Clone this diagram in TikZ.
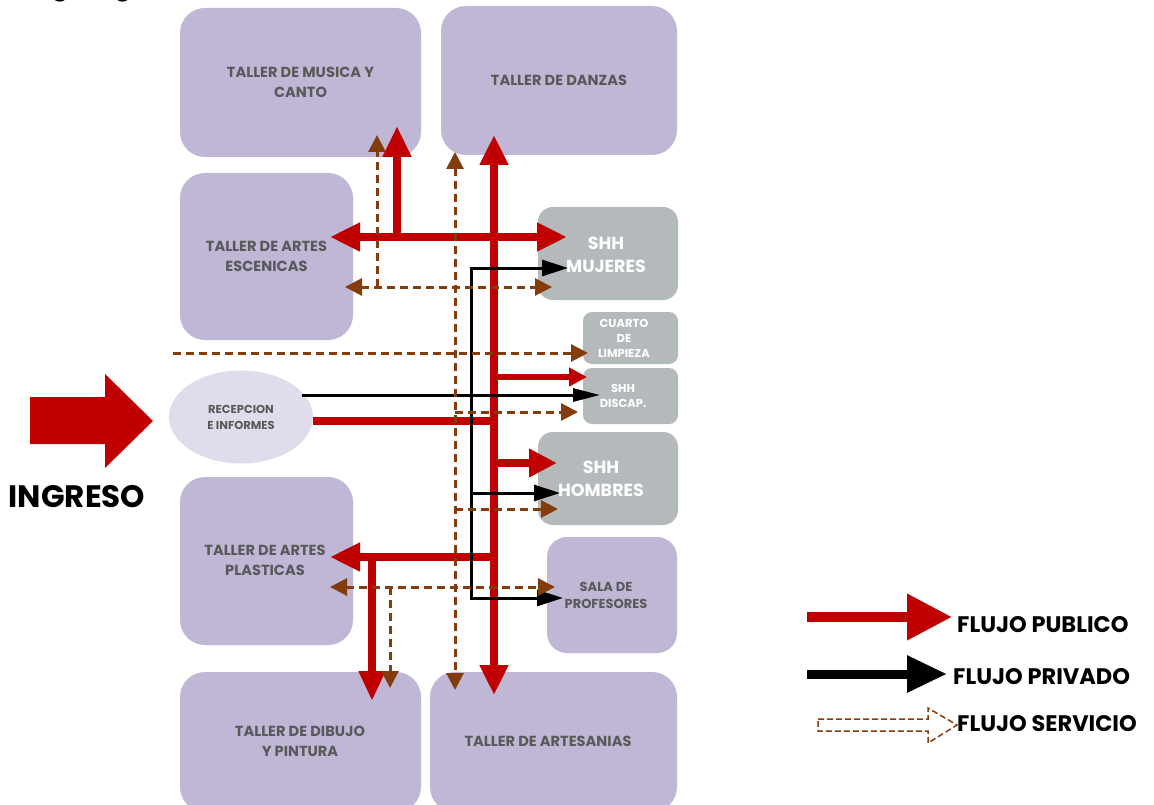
\documentclass[tikz,border=0pt]{standalone}
\usepackage{fontspec}
\setmainfont{Poppins}
\newfontfamily\labfont{Poppins SemiBold}
\usetikzlibrary{arrows.meta,shapes.geometric}
\definecolor{lav}{HTML}{C0B7D7}
\definecolor{lavlight}{HTML}{E0DCEC}
\definecolor{greybox}{HTML}{B4BABC}
\definecolor{txtgrey}{HTML}{595959}
\definecolor{redflow}{HTML}{C00000}
\definecolor{brownflow}{HTML}{843C0C}
\tikzset{
  room/.style={fill=lav, rounded corners=25pt, inner sep=0pt, align=center, text=txtgrey,
    font=\bfseries\fontsize{14.6}{20}\selectfont},
  wc/.style={fill=greybox, rounded corners=15pt, inner sep=0pt, align=center, text=white,
    font=\bfseries\fontsize{17.5}{23}\selectfont},
  wcsmall/.style={fill=greybox, rounded corners=9pt, inner sep=0pt, align=center, text=white,
    font=\bfseries\fontsize{11.5}{15}\selectfont},
  lbl/.style={inner sep=0pt, align=center},
  pub/.style={draw=redflow, line width=8pt},
  pubtip/.style={-{Triangle[length=30pt,width=27pt]}},
  pubboth/.style={{Triangle[length=30pt,width=27pt]}-{Triangle[length=30pt,width=27pt]}},
  priv/.style={draw=black, line width=3pt},
  privtip/.style={-{Triangle[length=26pt,width=16pt]}},
  privboth/.style={{Triangle[length=26pt,width=16pt]}-{Triangle[length=26pt,width=16pt]}},
  serv/.style={draw=brownflow, line width=3pt, dash pattern=on 8pt off 5pt},
  servtip/.style={-{Triangle[length=17pt,width=17pt]}},
  servboth/.style={{Triangle[length=17pt,width=17pt]}-{Triangle[length=17pt,width=17pt]}},
  legtext/.style={anchor=west, inner sep=0pt, font=\bfseries\fontsize{22.5}{24}\selectfont}
}
\begin{document}
\begin{tikzpicture}[x=1pt,y=-1pt]
\useasboundingbox (0,0) rectangle (1154,805);
\fill[white] (0,0) rectangle (1154,805);
% cut title
\node[anchor=base west, inner sep=0pt, font=\fontsize{28}{30}\selectfont] (titulo) at (18,-5) {Organigrama};
\node[anchor=base west, inner sep=0pt, font=\fontsize{28}{30}\selectfont] (paren) at (577,-5) {(};
% rooms
\node[room, minimum width=241pt, minimum height=149pt] (musica) at (300.5,82.5) {TALLER DE MUSICA Y\\CANTO};
\node[room, minimum width=236pt, minimum height=149pt] (danzas) at (559,80.5) {TALLER DE DANZAS};
\node[room, minimum width=173pt, minimum height=167pt] (escenicas) at (266.5,256.5) {TALLER DE ARTES\\ESCENICAS};
\node[wc, minimum width=140pt, minimum height=93pt] (mujeres) at (608,253.5) {};
\node[wc, lbl] (mujeresT) at (606,255) {SHH\\MUJERES};
\node[wcsmall, minimum width=95pt, minimum height=52pt] (limpieza) at (630.5,338) {};
\node[wcsmall, lbl] (limpiezaT) at (624,338) {CUARTO\\DE\\LIMPIEZA};
\node[wcsmall, minimum width=95pt, minimum height=56pt] (discap) at (630.5,396) {};
\node[wcsmall, lbl] (discapT) at (623,396) {SHH\\DISCAP.};
\node[wc, minimum width=140pt, minimum height=93pt] (hombres) at (608,478.5) {};
\node[wc, lbl] (hombresT) at (601,479) {SHH\\HOMBRES};
\node[room, rounded corners=20pt, minimum width=130pt, minimum height=116pt] (sala) at (612,595) {};
\node[room, lbl, font=\bfseries\fontsize{13}{17}\selectfont] (salaT) at (606,595) {SALA DE\\PROFESORES};
\node[room, minimum width=173pt, minimum height=168pt] (plasticas) at (266.5,561) {};
\node[room, lbl] (plasticasT) at (265,560) {TALLER DE ARTES\\PLASTICAS};
\node[room, minimum width=241pt, minimum height=140pt] (dibujo) at (300.5,742) {};
\node[room, lbl] (dibujoT) at (300,741) {TALLER DE DIBUJO\\Y PINTURA};
\node[room, minimum width=247pt, minimum height=140pt] (artesanias) at (553.5,742) {};
\node[room, lbl] (artesaniasT) at (548,741) {TALLER DE ARTESANIAS};
\node[ellipse, fill=lavlight, minimum width=144pt, minimum height=93pt, inner sep=0pt, align=center, text=txtgrey,
  font=\bfseries\fontsize{11.5}{16}\selectfont] (recep) at (241,417) {RECEPCION\\E INFORMES};
% ingreso
\fill[redflow] (30,397) -- (105,397) -- (105,374) -- (153,421) -- (105,468) -- (105,444) -- (30,444) -- cycle;
\node[font=\bfseries\fontsize{31}{32}\selectfont, inner sep=0pt] (ingreso) at (77,497) {INGRESO};
% junction coordinates
\coordinate (jDan) at (494,135);
\coordinate (jArt) at (494,695);
\coordinate (jRec) at (494,421);
\coordinate (jL) at (330,237);
\coordinate (jR) at (567,237);
\coordinate (jMusT) at (397,126);
\coordinate (jMusB) at (397,237);
% public flow
\draw[pub, pubboth] (jDan) -- (jArt);
\draw[pub] (recep.east |- jRec) -- (jRec);
\draw[pub, pubboth] (jL) -- (jR);
\draw[pub, -{Triangle[length=31pt,width=27pt]}] (jMusB) -- (jMusT);
\draw[draw=redflow, line width=6pt, -{Triangle[length=18pt,width=18pt]}] (494,377) -- (587,377);
\draw[pub, -{Triangle[length=28pt,width=27pt]}] (494,463) -- (557,463);
\draw[pub, pubtip] (494,557) -- (330,557);
\draw[pub, -{Triangle[length=30pt,width=25pt]}] (372,557) -- (372,701);
% private flow
\draw[priv, -{Triangle[length=27pt,width=13pt]}] (302,395) -- (600,395);
\draw[priv, privboth] (568,268) -- (471,268) -- (471,598) -- (563,598);
\draw[priv, privtip] (471,493) -- (560,493);
% service flow
\draw[serv, servboth] (345,287) -- (552,287);
\draw[serv, servtip] (377,287) -- (377,135);
\draw[serv, servboth] (455,152) -- (455,690);
\draw[serv, servtip] (173,353) -- (588,353);
\draw[serv, servtip] (455,412) -- (578,412);
\draw[serv, servtip] (455,509) -- (558,509);
\draw[serv, servboth] (330,587) -- (555,587);
\draw[serv, servtip] (390,587) -- (390,688);
% legend
\coordinate (lgA) at (807,617);
\coordinate (lgB) at (807,674);
\draw[draw=redflow, line width=10pt, -{Triangle[length=45pt,width=44pt]}] (lgA) -- (952,617);
\node[legtext] (lpub) at (957,625) {FLUJO PUBLICO};
\draw[draw=black, line width=9pt, -{Triangle[length=40pt,width=35pt]}] (lgB) -- (947,674);
\node[legtext] (lpriv) at (953,677) {FLUJO PRIVADO};
\draw[draw=brownflow, line width=1.5pt, dash pattern=on 6pt off 3pt]
  (818,719) -- (928,719) -- (928,708) -- (957,725) -- (928,743) -- (928,731) -- (818,731) -- cycle;
\node[legtext] (lserv) at (957,724) {FLUJO SERVICIO};
\end{tikzpicture}
\end{document}
